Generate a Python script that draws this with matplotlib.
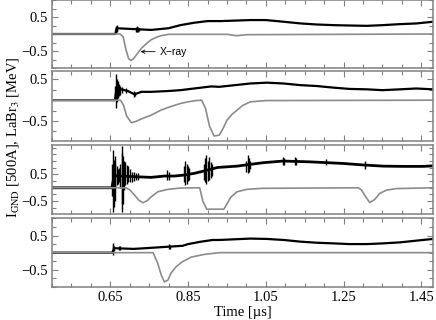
import matplotlib
matplotlib.use('Agg')
import matplotlib.pyplot as plt
from matplotlib.ticker import MultipleLocator, FixedLocator

# --- panel 1 ---
p1_lab_t = [0.5, 0.675, 0.683, 0.69, 0.697, 0.703, 0.71, 0.72, 0.73, 0.745, 0.755, 0.77, 0.78, 0.80, 0.95, 0.975, 1.0, 1.48]
p1_lab_v = [0, 0, -0.08, -0.45, -0.72, -0.78, -0.72, -0.57, -0.42, -0.26, -0.17, -0.09, -0.05, -0.01, -0.01, -0.05, -0.02, 0]
p1_gnd_t = [0.5, 0.663, 0.666, 0.70, 0.755, 0.80, 0.83, 0.865, 0.90, 0.935, 1.01, 1.05, 1.096, 1.14, 1.18, 1.225, 1.265, 1.31, 1.35, 1.395, 1.437, 1.48]
p1_gnd_v = [0, 0, 0.17, 0.15, 0.12, 0.17, 0.26, 0.33, 0.38, 0.38, 0.41, 0.41, 0.36, 0.31, 0.28, 0.26, 0.25, 0.24, 0.26, 0.29, 0.31, 0.36]
p1_spk_t = [0.664, 0.666, 0.668, 0.717, 0.719, 0.721, 0.724]
p1_spk_hi = [0.25, 0.27, 0.22, 0.20, 0.23, 0.22, 0.18]
p1_spk_lo = [0.04, 0.06, 0.08, 0.07, 0.05, 0.07, 0.09]

# --- panel 2 ---
p2_lab_t = [0.5, 0.676, 0.684, 0.692, 0.704, 0.716, 0.73, 0.755, 0.78, 0.80, 0.83, 0.85, 0.87, 0.885, 0.895, 0.905, 0.917, 0.93, 0.94, 0.95, 0.963, 0.976, 0.99, 1.01, 1.05, 1.48]
p2_lab_v = [0, 0, -0.12, -0.38, -0.54, -0.51, -0.45, -0.36, -0.24, -0.17, -0.08, -0.04, -0.01, 0, -0.2, -0.62, -0.86, -0.84, -0.68, -0.48, -0.34, -0.24, -0.13, -0.04, -0.01, 0]
p2_gnd_t = [0.5, 0.662, 0.666, 0.678, 0.695, 0.712, 0.73, 0.755, 0.80, 0.83, 0.883, 0.91, 0.93, 0.97, 1.01, 1.053, 1.096, 1.14, 1.18, 1.225, 1.265, 1.31, 1.35, 1.395, 1.437, 1.48]
p2_gnd_v = [0, 0, 0.3, 0.26, 0.22, 0.14, 0.2, 0.2, 0.22, 0.24, 0.30, 0.33, 0.32, 0.36, 0.40, 0.42, 0.40, 0.36, 0.34, 0.30, 0.27, 0.26, 0.24, 0.26, 0.28, 0.26]
p2_spk_t = [0.663, 0.665, 0.667, 0.669, 0.672, 0.675, 0.680, 0.690, 0.710, 0.713]
p2_spk_hi = [0.35, 0.64, 0.50, 0.45, 0.38, 0.35, 0.32, 0.30, 0.22, 0.20]
p2_spk_lo = [0.0, -0.20, -0.05, 0.05, 0.10, 0.12, 0.16, 0.18, 0.08, 0.10]

# --- panel 3 ---
p3_lab_t = [0.5, 0.69, 0.70, 0.712, 0.723, 0.734, 0.745, 0.755, 0.772, 0.797, 0.83, 0.88, 0.888, 0.898, 0.942, 0.95, 0.96, 0.976, 1.0, 1.04, 1.288, 1.296, 1.304, 1.317, 1.33, 1.343, 1.36, 1.386, 1.48]
p3_lab_v = [0, 0, -0.08, -0.27, -0.46, -0.56, -0.48, -0.34, -0.15, -0.06, -0.01, 0, -0.5, -0.80, -0.80, -0.6, -0.35, -0.15, -0.06, -0.02, 0, -0.08, -0.27, -0.55, -0.44, -0.21, -0.09, -0.03, 0]
p3_gnd_t = [0.5, 0.654, 0.66, 0.72, 0.755, 0.79, 0.815, 0.836, 0.866, 0.883, 0.926, 0.976, 1.044, 1.095, 1.163, 1.206, 1.249, 1.304, 1.352, 1.403, 1.454, 1.48]
p3_gnd_v = [0, 0, 0.45, 0.41, 0.39, 0.44, 0.44, 0.47, 0.54, 0.60, 0.76, 0.81, 0.94, 1.0, 0.97, 0.94, 0.91, 0.85, 0.81, 0.80, 0.80, 0.82]
p3_spk_t = [0.655, 0.657, 0.659, 0.661, 0.663, 0.666, 0.669, 0.672, 0.676, 0.679, 0.681, 0.683, 0.686, 0.689,
            0.692, 0.696, 0.700, 0.705, 0.710, 0.716, 0.722, 0.797, 0.800, 0.840, 0.843, 0.846, 0.849, 0.853,
            0.890, 0.894, 0.897, 0.900, 0.904, 0.908, 0.912, 1.000, 1.003, 1.006, 1.010, 1.095, 1.098, 1.124,
            1.127, 1.206, 1.304]
p3_spk_hi = [0.9, 1.41, 1.04, 1.2, 0.9, 0.8, 0.7, 0.75, 0.9, 1.3, 1.55, 1.2, 1.0, 0.95,
             0.85, 0.8, 0.7, 0.6, 0.6, 0.55, 0.55, 0.66, 0.6, 0.8, 1.01, 0.9, 0.8, 0.75,
             0.9, 1.1, 1.22, 1.0, 1.15, 0.95, 0.9, 1.0, 1.22, 1.1, 1.0, 1.15, 1.1, 1.16,
             1.1, 1.08, 1.01]
p3_spk_lo = [-0.3, -0.9, -0.7, -0.5, 0.0, 0.1, 0.15, 0.2, 0.0, -0.6, -0.92, -0.6, -0.1, 0.1,
             0.15, 0.2, 0.2, 0.22, 0.25, 0.28, 0.3, 0.29, 0.3, 0.2, 0.1, 0.15, 0.25, 0.3,
             0.3, 0.2, 0.16, 0.25, 0.3, 0.35, 0.45, 0.6, 0.54, 0.6, 0.7, 0.85, 0.85, 0.85,
             0.85, 0.85, 0.7]

# --- panel 4 ---
p4_lab_t = [0.5, 0.76, 0.772, 0.781, 0.789, 0.798, 0.806, 0.819, 0.836, 0.858, 0.892, 0.93, 1.48]
p4_lab_v = [0, 0, -0.31, -0.65, -0.85, -0.80, -0.60, -0.41, -0.26, -0.13, -0.05, 0, 0]
p4_gnd_t = [0.5, 0.655, 0.66, 0.71, 0.74, 0.78, 0.836, 0.85, 0.883, 0.913, 0.93, 1.01, 1.053, 1.096, 1.14, 1.18, 1.225, 1.265, 1.31, 1.35, 1.395, 1.437, 1.48]
p4_gnd_v = [0, 0, 0.13, 0.11, 0.13, 0.16, 0.20, 0.25, 0.32, 0.37, 0.37, 0.41, 0.40, 0.37, 0.32, 0.29, 0.27, 0.25, 0.25, 0.27, 0.30, 0.35, 0.40]
p4_spk_t = [0.656, 0.658, 0.660, 0.672, 0.675, 0.800, 0.803]
p4_spk_hi = [0.28, 0.22, 0.20, 0.20, 0.19, 0.24, 0.22]
p4_spk_lo = [-0.07, 0.0, 0.05, 0.08, 0.08, 0.10, 0.12]

ylims = [(-1.0, 1.0), (-0.98, 0.7), (-0.98, 1.6), (-1.0, 1.01)]
# panel top/bottom in pixels (from top of figure)
rows_px = [(0, 68), (71, 141), (145, 214), (218, 287)]

FRAME = '#808080'
GRAY = '#8c8c8c'


def draw_panel(ax, lab_t, lab_v, gnd_t, gnd_v, spk_t, spk_hi, spk_lo, ylim, lw_gnd=1.6):
    ax.plot(gnd_t, gnd_v, color='black', lw=lw_gnd, zorder=2)
    ax.vlines(spk_t, spk_lo, spk_hi, color='black', lw=1.0, zorder=2)
    ax.plot(lab_t, lab_v, color=GRAY, lw=1.2, zorder=3)
    ax.set_xlim(0.5, 1.48)
    ax.set_ylim(*ylim)
    ax.xaxis.set_major_locator(FixedLocator([0.65, 0.85, 1.05, 1.25, 1.45]))
    ax.xaxis.set_minor_locator(MultipleLocator(0.05))
    ax.yaxis.set_major_locator(FixedLocator([-0.5, 0.5]))
    ax.yaxis.set_minor_locator(MultipleLocator(0.25))
    ax.tick_params(which='both', direction='in', top=True, right=True, color=FRAME,
                   labelsize=10.5, pad=3)
    ax.tick_params(which='major', length=4, width=0.8)
    ax.tick_params(which='minor', length=3, width=0.8)
    for s in ax.spines.values():
        s.set_color(FRAME)
        s.set_linewidth(1.1)


def main():
    plt.rcParams['font.family'] = ['Liberation Serif', 'DejaVu Serif']
    plt.rcParams['mathtext.fontset'] = 'stix'
    W, H = 436, 320
    fig = plt.figure(figsize=(W / 100, H / 100), dpi=100)

    data = [
        (p1_lab_t, p1_lab_v, p1_gnd_t, p1_gnd_v, p1_spk_t, p1_spk_hi, p1_spk_lo),
        (p2_lab_t, p2_lab_v, p2_gnd_t, p2_gnd_v, p2_spk_t, p2_spk_hi, p2_spk_lo),
        (p3_lab_t, p3_lab_v, p3_gnd_t, p3_gnd_v, p3_spk_t, p3_spk_hi, p3_spk_lo),
        (p4_lab_t, p4_lab_v, p4_gnd_t, p4_gnd_v, p4_spk_t, p4_spk_hi, p4_spk_lo),
    ]
    axes = []
    for i, (top, bot) in enumerate(rows_px):
        ax = fig.add_axes([52 / W, 1 - bot / H, 381 / W, (bot - top) / H])
        draw_panel(ax, *data[i], ylims[i], lw_gnd=2.0 if i == 2 else 1.6)
        if i < 3:
            ax.set_xticklabels([])
        axes.append(ax)

    axes[3].set_xlabel('Time [\u00b5s]', fontsize=10.5, labelpad=1)

    # arrow to the x-ray pulse
    axes[0].annotate('X\u2212ray', xy=(0.728, -0.52), xytext=(0.776, -0.52),
                     fontsize=7.5, family='Liberation Sans', va='center',
                     arrowprops=dict(arrowstyle='->', lw=0.6, color='black',
                                     shrinkA=1, shrinkB=0, mutation_scale=6))

    fig.text(0.03, 1 - 137 / H, r'I$_{\mathrm{GND}}$ [500A], LaBr$_3$ [MeV]',
             rotation=90, ha='center', va='center', fontsize=10.5)

    fig.savefig('out.png', dpi=100)


if __name__ == "__main__":
    main()
